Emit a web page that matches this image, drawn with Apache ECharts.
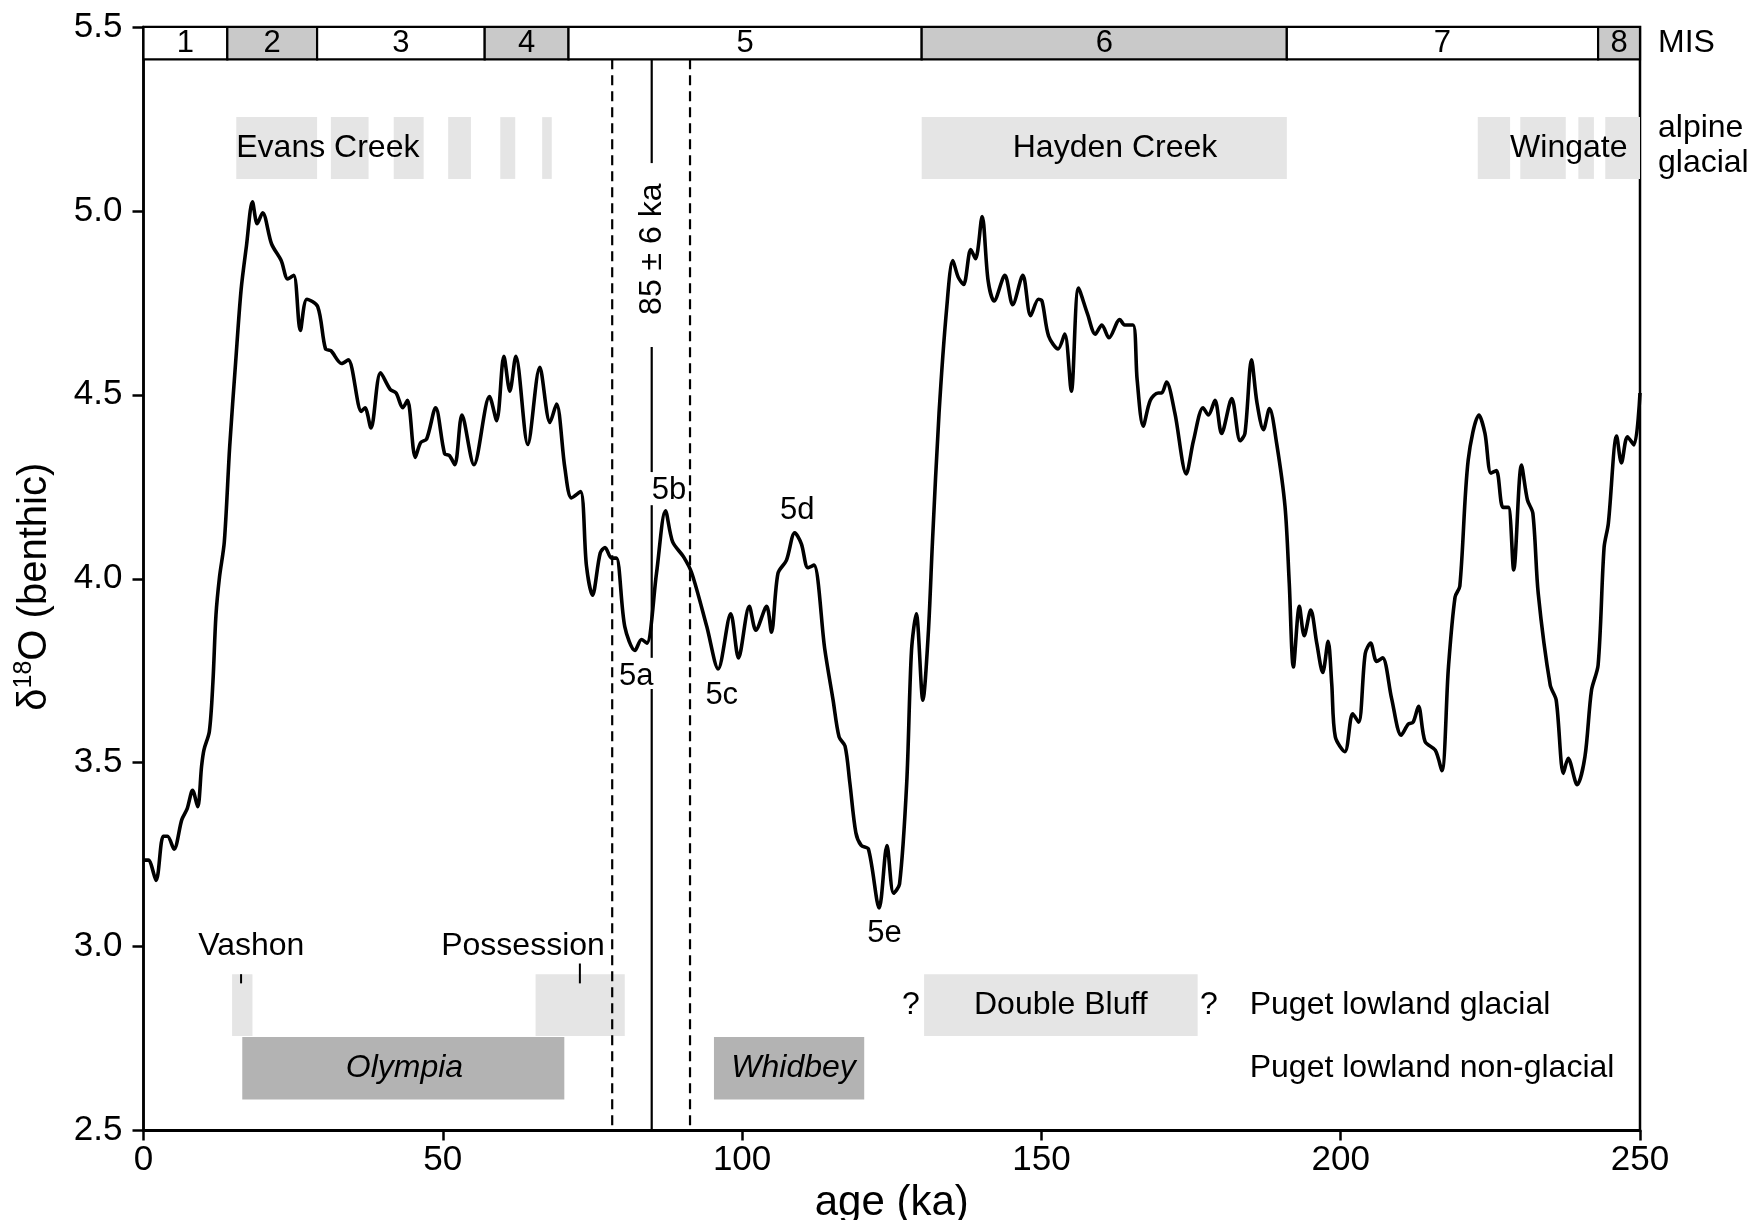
<!DOCTYPE html>
<html><head><meta charset="utf-8">
<script src="https://cdn.jsdelivr.net/npm/echarts/dist/echarts.min.js"></script>
<style>html,body{margin:0;padding:0;background:#fff}#c{width:1755px;height:1220px}</style>
</head><body><div id="c"></div><script>
const FONT = '"Liberation Sans", Arial, Helvetica, sans-serif';

// ---- benthic d18O record (age ka, value) ----
const ages = [0,0.8,2.1,3.3,4.0,5.1,6.4,7.3,8.2,9.05,9.7,10.1,11.0,11.6,12.1,12.7,13.5,14.4,15.4,16.3,17.2,18.2,19.0,19.9,21.4,23.0,24.1,25.1,26.2,27.3,29.1,30.4,31.3,33.1,34.2,36.4,37.0,38.0,39.6,41.2,42.2,43.3,44.1,45.4,46.3,47.3,48.8,50.3,51.1,52.0,53.2,55.2,57.8,59.0,60.2,61.2,62.2,64.2,66.2,67.9,69.0,70.4,71.5,73.0,74.0,75.0,76.3,77.1,78.2,79.0,80.4,82.1,83.2,84.1,85.7,87.2,88.4,90.2,91.6,94.1,96.0,98.1,99.4,101.2,102.3,104.1,104.9,106.0,107.4,108.8,109.9,111.0,112.0,113.8,115.2,116.2,117.2,118.0,119.0,119.9,121.1,122.9,124.2,125.3,126.3,127.5,128.3,129.1,130.2,131.1,131.8,132.9,134.2,135.2,136.1,137.0,138.2,139.0,140.1,141.1,142.1,143.9,145.2,146.9,148.2,149.5,150.1,151.2,152.8,153.9,155.0,156.2,157.7,159.0,160.1,161.3,163.1,163.9,165.3,166.0,167.0,168.2,169.5,170.1,170.9,172.3,174.2,175.4,177.0,177.9,179.0,180.1,181.8,183.2,184.0,185.1,186.0,187.1,188.1,189.3,190.7,191.4,192.1,193.1,193.9,195.0,196.0,197.0,197.9,198.5,199.1,200.7,202.0,203.0,204.1,205.0,206.0,207.0,208.5,210.1,211.3,212.1,213.0,214.1,215.8,216.9,218.0,219.1,219.9,221.3,223.1,224.1,225.1,226.0,227.1,228.0,228.9,230.2,231.2,232.1,233.0,235.0,236.0,237.2,238.0,239.5,240.8,241.9,243.0,244.0,244.7,246.1,246.9,247.9,249.0,250.0];
const d18O = [3.235,3.235,3.18,3.30,3.30,3.265,3.345,3.375,3.425,3.38,3.49,3.535,3.585,3.72,3.90,4.005,4.10,4.36,4.59,4.785,4.905,5.025,4.965,4.995,4.91,4.865,4.815,4.825,4.675,4.76,4.74,4.625,4.62,4.585,4.595,4.455,4.465,4.41,4.56,4.515,4.505,4.465,4.485,4.33,4.37,4.38,4.465,4.34,4.335,4.31,4.445,4.31,4.495,4.43,4.605,4.51,4.605,4.365,4.575,4.425,4.475,4.30,4.22,4.237,4.035,3.955,4.07,4.085,4.056,4.056,3.87,3.805,3.835,3.825,4.015,4.185,4.10,4.06,4.015,3.87,3.755,3.905,3.785,3.925,3.86,3.925,3.855,4.015,4.05,4.125,4.095,4.03,4.037,3.81,3.67,3.57,3.545,3.445,3.31,3.275,3.265,3.105,3.275,3.145,3.17,3.445,3.805,3.905,3.67,3.85,4.10,4.45,4.74,4.865,4.82,4.80,4.895,4.87,4.985,4.81,4.755,4.825,4.745,4.825,4.715,4.76,4.755,4.66,4.625,4.665,4.51,4.79,4.72,4.665,4.69,4.655,4.705,4.69,4.69,4.54,4.415,4.485,4.505,4.505,4.535,4.45,4.285,4.375,4.465,4.445,4.485,4.395,4.49,4.375,4.395,4.595,4.48,4.405,4.463,4.368,4.196,3.99,3.76,3.925,3.845,3.915,3.825,3.745,3.83,3.715,3.57,3.53,3.633,3.61,3.797,3.825,3.775,3.785,3.675,3.575,3.605,3.61,3.653,3.557,3.534,3.478,3.76,3.95,3.98,4.323,4.445,4.395,4.287,4.294,4.194,4.194,4.024,4.309,4.214,4.178,3.96,3.711,3.67,3.471,3.512,3.44,3.516,3.697,3.765,4.085,4.149,4.388,4.315,4.386,4.364,4.505];

// ---- marine isotope stages ----
const misBounds = [0,14,29,57,71,130,191,243,250];
const misNames = ['1','2','3','4','5','6','7','8'];

// ---- alpine glacial intervals ----
const alpineBands = [[15.5,29],[31.3,37.6],[41.8,46.8],[50.9,54.7],[59.6,62.1],[66.6,68.2],[130,191],[222.9,228.3],[230,237.6],[239.7,242.3],[244.2,250]];
const alpineNames = ['Evans Creek','Hayden Creek','Wingate'];
const alpineNameAges = [30.8,162.3,238.1];

// ---- Puget lowland glacial / non-glacial ----
const glacialBands = [[14.8,18.2],[65.5,80.4],[130.4,176.1]];
const glacialNames = ['Vashon','Possession','Double Bluff'];
const glacialNameAges = [18.0,63.4,153.25];
const glacialTickAges = [16.3,72.9];
const uncertainAges = [128.2,178.0];
const nonGlacialBands = [[16.5,70.3],[95.3,120.4]];
const nonGlacialNames = ['Olympia','Whidbey'];
const nonGlacialNameAges = [43.6,108.6];

// ---- substages ----
const substageNames = ['5a','5b','5c','5d','5e'];
const substageAges = [82.3,87.8,96.6,109.2,123.8];
const substageValues = [3.734,4.241,3.684,4.187,3.036];

// ---- dated horizon 85 ± 6 ka ----
const dateLines = [78.3,84.9,91.3];
const dateLabel = '85 ± 6 ka';

// ---- axis ticks ----
const xTicks = [0,50,100,150,200,250];
const yTicks = [2.5,3.0,3.5,4.0,4.5,5.0,5.5];

// layout bands (y in axis units)
const Y_MIS = [5.412,5.5];
const Y_ALP = [5.087,5.255];
const Y_GLA = [2.757,2.925];
const Y_NON = [2.584,2.754];

const chart = echarts.init(document.getElementById('c'), null, {renderer:'canvas'});

function txt(api, arr, x, y, text, o) {
  o = o || {};
  const p = api.coord([x, y]);
  const size = o.size || 32;
  const al = o.align || 'center';
  arr.push({
    type:'text', x: p[0] + (o.dx||0), y: p[1] + (o.dy||0), rotation: o.rot || 0,
    style:{text: text, fill:'#000', font: (o.italic?'italic ':'') + size + 'px ' + FONT,
      align: al, textAlign: al, verticalAlign:'middle', textVerticalAlign:'middle'}
  });
}
function rect(api, arr, x0, x1, y0, y1, style) {
  const a = api.coord([x0, y1]), b = api.coord([x1, y0]);
  arr.push({type:'rect', shape:{x:a[0], y:a[1], width:b[0]-a[0], height:b[1]-a[1]}, style: style});
}
function vline(api, arr, x, y0, y1, w, dash) {
  const a = api.coord([x, y0]), b = api.coord([x, y1]);
  arr.push({type:'line', shape:{x1:a[0], y1:a[1], x2:b[0], y2:b[1]}, style:{stroke:'#000', lineWidth:w, lineDash: dash || null}});
}

const option = {
  animation:false,
  backgroundColor:'#fff',
  grid:{left:143.5, right:115, top:27, bottom:89.5, show:true, borderColor:'#000', borderWidth:2.5, backgroundColor:'rgba(0,0,0,0)', outerBoundsMode:'none'},
  xAxis:{type:'value', min:0, max:250, interval:50,
    name:'age (ka)', nameLocation:'middle', nameGap:50,
    nameTextStyle:{fontSize:42, fontFamily:FONT, color:'#000'},
    axisLine:{show:true, onZero:false, lineStyle:{color:'#000', width:3}},
    axisTick:{show:true, length:10, lineStyle:{color:'#000', width:2.5}},
    axisLabel:{fontSize:35, fontFamily:FONT, color:'#000', margin:12,
      customValues: xTicks},
    splitLine:{show:false}},
  yAxis:{type:'value', min:2.5, max:5.5, interval:0.5,
    name:'{a|δ}{s|18}{a|O (benthic)}', nameLocation:'middle', nameGap:86, nameRotate:90,
    nameTextStyle:{color:'#000', padding:[0,16,0,0], rich:{
      a:{fontSize:40, fontFamily:FONT, color:'#000', lineHeight:46},
      s:{fontSize:25, fontFamily:FONT, color:'#000', lineHeight:46, verticalAlign:'top', padding:[0,0,14,0]}}},
    axisLine:{show:true, onZero:false, lineStyle:{color:'#000', width:2.5}},
    axisTick:{show:true, length:11, lineStyle:{color:'#000', width:2.5}},
    axisLabel:{fontSize:35, fontFamily:FONT, color:'#000', margin:21, formatter: v => v.toFixed(1)},
    splitLine:{show:false}},
  series:[
    { // bands
      type:'custom', z:1, clip:false, silent:true, data:[[0, 2.5]],
      renderItem:(params, api) => {
        const ch = [];
        alpineBands.forEach(b => rect(api, ch, b[0], b[1], Y_ALP[0], Y_ALP[1], {fill:'#e5e5e5'}));
        glacialBands.forEach(b => rect(api, ch, b[0], b[1], Y_GLA[0], Y_GLA[1], {fill:'#e5e5e5'}));
        nonGlacialBands.forEach(b => rect(api, ch, b[0], b[1], Y_NON[0], Y_NON[1], {fill:'#b3b3b3'}));
        for (let i = 0; i < misNames.length; i++) {
          rect(api, ch, misBounds[i], misBounds[i+1], Y_MIS[0], Y_MIS[1],
            {fill: i % 2 ? '#c9c9c9' : '#ffffff', stroke:'#000', lineWidth:2.2});
        }
        return {type:'group', children:ch};
      }
    },
    { // date lines
      type:'custom', z:2, clip:false, silent:true, data:[[0, 2.5]],
      renderItem:(params, api) => {
        const ch = [];
        vline(api, ch, dateLines[0], Y_MIS[0], 2.5, 2.2, [10,6]);
        vline(api, ch, dateLines[2], Y_MIS[0], 2.5, 2.2, [10,6]);
        [[Y_MIS[0],5.13],[4.63,4.29],[4.20,3.785],[3.70,2.5]].forEach(s => vline(api, ch, dateLines[1], s[0], s[1], 2.2));
        vline(api, ch, glacialTickAges[0], Y_GLA[1], 2.90, 2);
        vline(api, ch, glacialTickAges[1], 2.954, 2.90, 2);
        return {type:'group', children:ch};
      }
    },
    {
      type:'line', name:'d18O', z:5, showSymbol:false, smooth:0.3,
      data: ages.map((a, i) => [a, d18O[i]]),
      lineStyle:{color:'#000', width:3.6}, itemStyle:{color:'#000'}
    },
    { // texts
      type:'custom', z:10, clip:false, silent:true, data:[[0, 2.5]],
      renderItem:(params, api) => {
        const ch = [];
        for (let i = 0; i < misNames.length; i++) {
          txt(api, ch, (misBounds[i] + misBounds[i+1]) / 2, (Y_MIS[0] + Y_MIS[1]) / 2, misNames[i], {size:31});
        }
        const yAlp = (Y_ALP[0] + Y_ALP[1]) / 2;
        alpineNames.forEach((n, i) => txt(api, ch, alpineNameAges[i], yAlp, n));
        txt(api, ch, 250, 5.456, 'MIS', {align:'left', dx:18});
        txt(api, ch, 250, 5.225, 'alpine', {align:'left', dx:18});
        txt(api, ch, 250, 5.129, 'glacial', {align:'left', dx:18});
        txt(api, ch, dateLines[1], 4.896, dateLabel, {rot: Math.PI / 2});
        substageNames.forEach((n, i) => txt(api, ch, substageAges[i], substageValues[i], n, {size:31}));
        const yG = (Y_GLA[0] + Y_GLA[1]) / 2, yN = (Y_NON[0] + Y_NON[1]) / 2;
        txt(api, ch, glacialNameAges[0], 3.0, glacialNames[0]);
        txt(api, ch, glacialNameAges[1], 3.0, glacialNames[1]);
        txt(api, ch, glacialNameAges[2], yG, glacialNames[2]);
        uncertainAges.forEach(a => txt(api, ch, a, yG, '?'));
        nonGlacialNames.forEach((n, i) => txt(api, ch, nonGlacialNameAges[i], yN, n, {italic:true}));
        txt(api, ch, 184.8, yG, 'Puget lowland glacial', {align:'left'});
        txt(api, ch, 184.8, yN, 'Puget lowland non-glacial', {align:'left'});
        return {type:'group', children:ch};
      }
    }
  ]
};
chart.setOption(option);
</script></body></html>
